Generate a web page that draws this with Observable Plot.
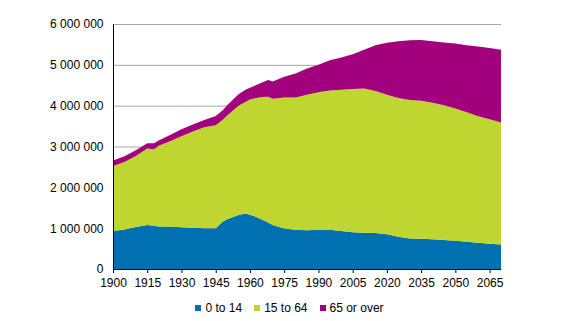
<!DOCTYPE html>
<html>
<head>
<meta charset="utf-8">
<script src="https://cdn.jsdelivr.net/npm/d3@7"></script>
<script src="https://cdn.jsdelivr.net/npm/@observablehq/plot@0.6"></script>
<style>
  body { margin: 0; background: #fff; font-family: "Liberation Sans", Arial, sans-serif; }
  #legend { display: flex; justify-content: center; align-items: center; height: 31px; padding-top: 4px; box-sizing: border-box; font-size: 12px; color: #000; margin-left: 8px; }
  .item { display: flex; align-items: center; margin-right: 12px; }
  .item:last-child { margin-right: 0; }
  .sw { width: 6px; height: 6px; margin-right: 4px; }
</style>
</head>
<body>
<div id="chart"></div>
<div id="legend"></div>
<script>
// Years
const years = [1900,1905,1910,1915,1918,1920,1925,1930,1935,1940,1945,1948,1950,1955,1958,1960,1963,1965,1968,1970,1975,1980,1985,1990,1995,2000,2005,2010,2015,2020,2025,2030,2035,2040,2045,2050,2055,2060,2065,2070];
// Population by age group, thousands
const age0to14 = [930,970,1030,1080,1060,1040,1040,1020,1010,1000,1000,1160,1220,1320,1360,1330,1270,1220,1140,1080,990,960,950,960,960,930,900,890,880,850,790,750,740,730,710,690,670,640,620,600];
const age15to64 = [1590,1650,1740,1870,1870,1980,2090,2230,2360,2470,2520,2490,2540,2680,2730,2820,2920,2990,3080,3090,3210,3240,3320,3370,3410,3460,3510,3530,3480,3420,3400,3390,3380,3340,3300,3240,3170,3100,3050,2990];
const age65plus = [140,140,140,130,150,130,150,170,170,180,230,230,250,280,300,290,320,350,410,420,510,590,640,670,740,790,850,950,1120,1270,1390,1460,1490,1510,1540,1590,1640,1710,1740,1780];
const groups = ["0 to 14", "15 to 64", "65 or over"];
const colors = ["#0070b0", "#c0d630", "#a3007d"];
const xTicks = [1900,1915,1930,1945,1960,1975,1990,2005,2020,2035,2050,2065];
const yTicks = [0,1000000,2000000,3000000,4000000,5000000,6000000];

const series = [age0to14, age15to64, age65plus];
const data = [];
years.forEach((yr, i) => {
  groups.forEach((g, k) => data.push({year: yr, group: g, value: series[k][i] * 1000}));
});

const fmt = d3.formatLocale({thousands: " ", grouping: [3], decimal: ","}).format(",");

const chart = Plot.plot({
  width: 571,
  height: 290,
  marginLeft: 113,
  marginRight: 70,
  marginTop: 24,
  marginBottom: 21,
  style: {fontFamily: "'Liberation Sans', Arial, sans-serif", fontSize: "12px", color: "#000", background: "#fff"},
  x: {domain: [1900, 2070]},
  y: {domain: [0, 6000000]},
  color: {domain: groups, range: colors},
  marks: [
    Plot.gridY(yTicks, {stroke: "#a6a6a6", strokeOpacity: 1, strokeWidth: 1}),
    Plot.areaY(data, {x: "year", y: "value", fill: "group", order: groups, curve: "linear"}),
    Plot.ruleX([1900], {stroke: "#000"}),
    Plot.ruleY([0], {stroke: "#000"}),
    Plot.axisY(yTicks, {tickSize: 0, tickPadding: 10, tickFormat: fmt, label: null, fontSize: 12}),
    Plot.axisX(xTicks, {tickSize: 4, tickPadding: 5, tickFormat: d => String(d), label: null, fontSize: 12})
  ]
});
document.getElementById("chart").appendChild(chart);

const legend = document.getElementById("legend");
groups.forEach((g, k) => {
  const it = document.createElement("div");
  it.className = "item";
  const sw = document.createElement("div");
  sw.className = "sw";
  sw.style.background = colors[k];
  const t = document.createElement("span");
  t.textContent = g;
  it.appendChild(sw);
  it.appendChild(t);
  legend.appendChild(it);
});
</script>
</body>
</html>
